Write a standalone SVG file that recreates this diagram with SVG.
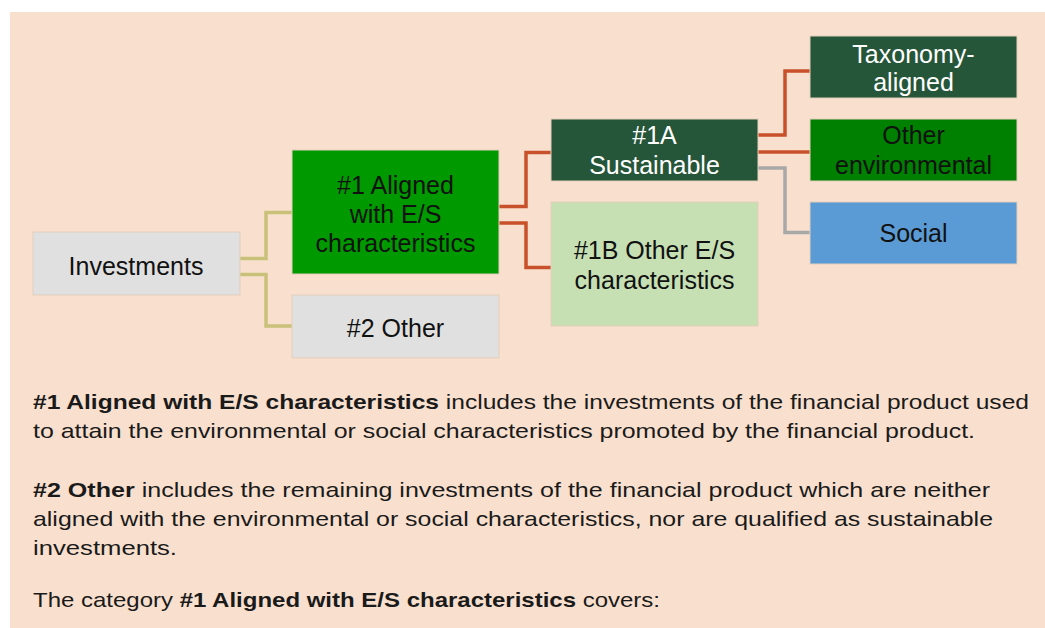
<svg xmlns="http://www.w3.org/2000/svg" width="1045" height="628" viewBox="0 0 1045 628">
<style>
.bg{fill:#f9e0ce}
.box{stroke:#e3cdb9;stroke-width:1}
.t{font-family:"Liberation Sans",Arial,sans-serif;font-size:25px;text-anchor:middle}
.dark{fill:#111111}
.light{fill:#ffffff}
.c{fill:none;stroke-width:3.5;stroke-linejoin:miter}
.khaki{stroke:#c9c07a}
.red{stroke:#c8502b}
.gray{stroke:#a8a8a8}
.p{font-family:"Liberation Sans",Arial,sans-serif;font-size:21px;fill:#1a1a1a}
.b{font-weight:bold}
</style>
<rect class="bg" x="10" y="12" width="1035" height="616"/>
<g id="connectors">
<path class="c khaki" d="M240 258.5 H266 V212.5 H292"/>
<path class="c khaki" d="M240 274.5 H266 V326 H292"/>
<path class="c red" d="M499 206.5 H526 V152.5 H551"/>
<path class="c red" d="M499 223 H526 V267.5 H551"/>
<path class="c red" d="M758 135 H785 V71 H810"/>
<path class="c red" d="M758 152 H810"/>
<path class="c gray" d="M758 168 H785 V232.5 H810"/>
</g>
<g id="investments">
<rect class="box" x="33" y="232" width="207" height="63" fill="#e0e0e0"/>
<text class="t dark" x="136" y="275">Investments</text>
</g>
<g id="aligned">
<rect class="box" x="292" y="150" width="207" height="124" fill="#009900"/>
<text class="t dark" x="395.5" y="194">#1 Aligned</text>
<text class="t dark" x="395.5" y="223">with E/S</text>
<text class="t dark" x="395.5" y="252">characteristics</text>
</g>
<g id="other2">
<rect class="box" x="292" y="295" width="207" height="63" fill="#e0e0e0"/>
<text class="t dark" x="395.5" y="337">#2 Other</text>
</g>
<g id="sustainable">
<rect class="box" x="551" y="119" width="207" height="62" fill="#26563a"/>
<text class="t light" x="654.5" y="144">#1A</text>
<text class="t light" x="654.5" y="174">Sustainable</text>
</g>
<g id="other1b">
<rect class="box" x="551" y="202" width="207" height="124" fill="#c6e0b4"/>
<text class="t dark" x="654.5" y="259">#1B Other E/S</text>
<text class="t dark" x="654.5" y="289">characteristics</text>
</g>
<g id="taxonomy">
<rect class="box" x="810" y="36" width="207" height="62" fill="#26563a"/>
<text class="t light" x="913.5" y="63">Taxonomy-</text>
<text class="t light" x="913.5" y="91">aligned</text>
</g>
<g id="otherenv">
<rect class="box" x="810" y="119" width="207" height="62" fill="#008000"/>
<text class="t dark" x="913.5" y="144">Other</text>
<text class="t dark" x="913.5" y="174">environmental</text>
</g>
<g id="social">
<rect class="box" x="810" y="202" width="207" height="62" fill="#5b9bd5"/>
<text class="t dark" x="913.5" y="242">Social</text>
</g>
<g id="description">
<text class="p" x="33" y="409" textLength="996" lengthAdjust="spacingAndGlyphs"><tspan class="b">#1 Aligned with E/S characteristics</tspan> includes the investments of the financial product used</text>
<text class="p" x="33" y="438" textLength="942" lengthAdjust="spacingAndGlyphs">to attain the environmental or social characteristics promoted by the financial product.</text>
<text class="p" x="33" y="497" textLength="957" lengthAdjust="spacingAndGlyphs"><tspan class="b">#2 Other</tspan> includes the remaining investments of the financial product which are neither</text>
<text class="p" x="33" y="526" textLength="960" lengthAdjust="spacingAndGlyphs">aligned with the environmental or social characteristics, nor are qualified as sustainable</text>
<text class="p" x="33" y="555" textLength="144" lengthAdjust="spacingAndGlyphs">investments.</text>
<text class="p" x="33" y="607" textLength="627" lengthAdjust="spacingAndGlyphs">The category <tspan class="b">#1 Aligned with E/S characteristics</tspan> covers:</text>
</g>
</svg>
